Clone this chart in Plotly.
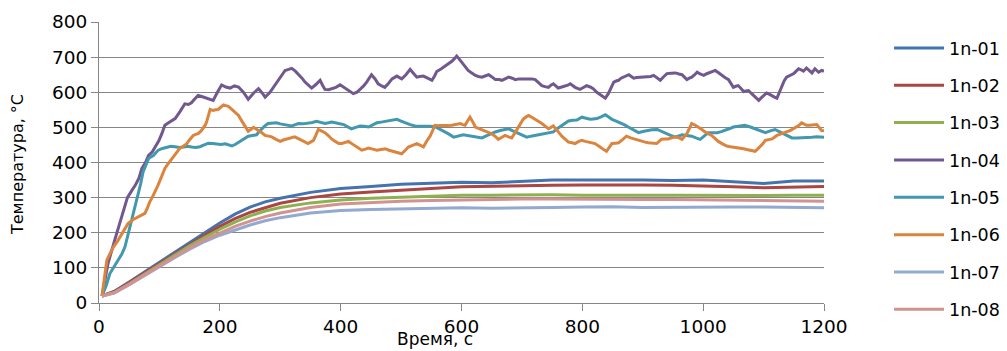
import plotly.graph_objects as go

# ---------------- data ----------------
series_names = ["1n-01", "1n-02", "1n-03", "1n-04", "1n-05", "1n-06", "1n-07", "1n-08"]
series_colors = ["#4573AE", "#AA4643", "#8FB050", "#71588F", "#4198AF", "#DB843D", "#93A9CF", "#D19392"]

t_smooth = [5, 25, 50, 75, 100, 125, 150, 175, 200, 225, 250, 275, 300, 350, 400, 450, 500, 550, 600,
            650, 700, 750, 800, 850, 900, 950, 1000, 1050, 1100, 1150, 1200]
v_01 = [20, 33, 60, 88, 115, 142, 172, 200, 228, 253, 273, 288, 298, 315, 326, 332, 338, 341, 344,
        342, 346, 350, 350, 351, 350, 349, 350, 345, 340, 347, 347]
v_02 = [20, 32, 58, 85, 112, 140, 167, 193, 218, 240, 258, 272, 284, 300, 310, 316, 320, 326, 331,
        333, 333, 335, 336, 337, 336, 335, 334, 331, 328, 330, 332]
v_03 = [20, 30, 55, 82, 110, 137, 163, 187, 210, 230, 248, 262, 272, 285, 293, 298, 301, 304, 307,
        307, 308, 308, 307, 308, 307, 307, 306, 307, 306, 307, 307]
v_07 = [20, 28, 52, 78, 104, 129, 153, 175, 193, 208, 222, 234, 243, 256, 263, 266, 268, 270, 271,
        270, 272, 272, 273, 274, 272, 273, 274, 273, 273, 272, 271]
v_08 = [20, 29, 53, 79, 106, 132, 157, 180, 200, 218, 233, 246, 256, 272, 282, 287, 290, 292, 294,
        295, 296, 296, 295, 296, 295, 295, 294, 292, 290, 290, 290]

t_04 = [5, 15, 26, 37, 47, 55, 60, 66, 71, 77, 82, 88, 93, 99, 104, 109, 117, 126, 134, 142, 148, 153,
        158, 164, 170, 175, 182, 189, 196, 203, 210, 217, 224, 231, 239, 247, 256, 264, 270, 275, 283,
        291, 300, 308, 314, 319, 325, 330, 336, 341, 347, 352, 359, 366, 370, 374, 380, 385, 392, 399,
        408, 415, 421, 427, 432, 438, 443, 447, 451, 457, 462, 468, 473, 479, 485, 493, 501, 508, 515,
        520, 526, 531, 537, 544, 551, 555, 559, 566, 573, 579, 584, 588, 592, 596, 600, 606, 611, 617,
        623, 628, 634, 640, 645, 651, 656, 662, 667, 673, 678, 684, 689, 695, 700, 706, 711, 717, 722,
        728, 733, 738, 744, 748, 752, 756, 760, 766, 771, 776, 780, 784, 788, 796, 807, 813, 818, 824,
        829, 834, 838, 843, 848, 852, 856, 860, 864, 868, 873, 877, 881, 885, 890, 896, 902, 907, 913,
        918, 924, 929, 935, 940, 947, 954, 960, 965, 969, 973, 977, 981, 986, 990, 995, 1001, 1005,
        1009, 1015, 1020, 1026, 1031, 1036, 1042, 1046, 1050, 1054, 1058, 1063, 1067, 1071, 1075, 1079,
        1083, 1088, 1092, 1096, 1100, 1105, 1110, 1114, 1118, 1122, 1126, 1130, 1134, 1138, 1144, 1150,
        1154, 1158, 1162, 1166, 1171, 1176, 1180, 1185, 1191, 1196, 1200]
v_04 = [20, 113, 179, 240, 300, 322, 335, 355, 383, 400, 420, 430, 444, 462, 482, 506, 515, 525, 545,
        567, 565, 570, 580, 591, 588, 585, 580, 577, 600, 621, 615, 612, 618, 615, 600, 580, 598, 610,
        598, 586, 600, 619, 640, 662, 665, 668, 660, 652, 640, 629, 620, 612, 622, 634, 620, 608, 607,
        610, 614, 621, 610, 603, 596, 600, 608, 618, 629, 640, 650, 638, 624, 618, 614, 625, 638, 646,
        638, 650, 665, 655, 643, 645, 646, 640, 634, 645, 659, 666, 674, 680, 688, 695, 703, 695, 686,
        675, 662, 655, 648, 645, 643, 647, 650, 643, 636, 636, 634, 639, 643, 640, 636, 638, 638, 640,
        640, 638, 636, 628, 619, 616, 614, 620, 624, 618, 612, 615, 617, 620, 624, 619, 614, 608, 619,
        615, 610, 600, 593, 588, 583, 596, 615, 629, 632, 634, 640, 643, 648, 650, 645, 640, 642, 643,
        642, 643, 645, 648, 640, 634, 645, 653, 654, 655, 652, 650, 643, 636, 640, 643, 650, 657, 652,
        648, 652, 655, 658, 662, 655, 648, 642, 636, 625, 614, 617, 619, 610, 602, 604, 605, 598, 591,
        584, 577, 584, 591, 598, 594, 589, 586, 583, 600, 619, 632, 643, 648, 653, 660, 667, 664, 660,
        669, 662, 655, 667, 657, 662, 660]

t_05 = [5, 12, 18, 25, 32, 38, 43, 47, 51, 56, 60, 65, 69, 73, 78, 82, 86, 90, 94, 98, 105, 112, 119,
        126, 133, 140, 147, 153, 160, 167, 174, 181, 188, 195, 202, 209, 215, 220, 226, 233, 240, 247,
        254, 261, 265, 269, 275, 280, 287, 294, 300, 305, 312, 319, 325, 330, 338, 346, 353, 360, 367,
        374, 380, 385, 391, 398, 405, 411, 418, 425, 432, 439, 446, 453, 460, 467, 474, 483, 493, 500,
        507, 515, 523, 531, 540, 548, 557, 565, 573, 580, 587, 595, 603, 610, 617, 625, 634, 641, 648,
        656, 664, 671, 678, 685, 692, 700, 708, 715, 722, 730, 739, 745, 752, 759, 766, 772, 777, 784,
        791, 799, 806, 813, 818, 824, 831, 838, 843, 849, 856, 863, 870, 876, 884, 893, 900, 907, 915,
        924, 931, 938, 946, 954, 960, 965, 973, 981, 988, 995, 1002, 1009, 1016, 1023, 1030, 1036, 1043,
        1050, 1060, 1069, 1078, 1086, 1095, 1103, 1111, 1119, 1126, 1133, 1140, 1147, 1155, 1163, 1172,
        1180, 1188, 1196, 1200]
v_05 = [20, 50, 84, 103, 122, 140, 160, 188, 217, 245, 274, 316, 340, 373, 395, 411, 416, 420, 428,
        435, 440, 444, 446, 445, 443, 444, 446, 444, 443, 445, 450, 455, 454, 453, 451, 453, 450, 447,
        452, 460, 468, 475, 477, 479, 488, 496, 505, 511, 513, 513, 510, 508, 506, 504, 508, 511, 510,
        511, 514, 517, 514, 511, 513, 515, 513, 510, 508, 502, 496, 500, 504, 503, 501, 507, 513, 515,
        517, 520, 523, 518, 513, 508, 504, 504, 504, 503, 501, 494, 487, 480, 472, 476, 479, 477, 475,
        473, 470, 476, 482, 487, 491, 494, 496, 490, 485, 478, 472, 475, 477, 480, 482, 484, 487, 497,
        506, 512, 518, 520, 521, 529, 526, 523, 524, 525, 530, 536, 530, 523, 518, 513, 507, 501, 493,
        485, 488, 491, 493, 494, 488, 482, 477, 472, 476, 479, 477, 475, 470, 466, 476, 485, 485, 485,
        488, 491, 496, 501, 504, 506, 501, 496, 490, 485, 490, 494, 488, 482, 476, 470, 470, 470, 471,
        472, 473, 472, 472]

t_06 = [5, 13, 18, 24, 31, 37, 43, 48, 56, 65, 70, 76, 80, 84, 88, 93, 97, 101, 105, 109, 113, 117,
        122, 126, 130, 134, 140, 145, 150, 156, 160, 164, 169, 173, 176, 178, 181, 184, 186, 189, 193,
        197, 202, 206, 210, 214, 218, 222, 227, 231, 235, 239, 243, 247, 251, 256, 260, 264, 270, 275,
        280, 286, 293, 300, 305, 311, 317, 324, 330, 335, 340, 346, 350, 355, 359, 363, 368, 374, 380,
        385, 391, 397, 402, 408, 413, 419, 424, 430, 435, 441, 446, 453, 460, 467, 474, 480, 487, 494,
        501, 507, 512, 519, 526, 532, 537, 542, 548, 552, 556, 563, 570, 577, 584, 591, 598, 602, 606,
        610, 614, 619, 623, 630, 637, 643, 650, 656, 661, 667, 672, 678, 683, 688, 693, 698, 702, 707,
        711, 717, 722, 728, 733, 739, 744, 748, 752, 759, 766, 772, 777, 783, 788, 794, 799, 805, 810,
        816, 821, 827, 832, 836, 840, 845, 849, 855, 860, 867, 873, 880, 887, 893, 898, 904, 909, 916,
        923, 927, 931, 937, 942, 948, 954, 960, 965, 969, 973, 977, 981, 987, 992, 998, 1003, 1009, 1014,
        1020, 1025, 1032, 1039, 1045, 1050, 1056, 1061, 1067, 1072, 1079, 1086, 1090, 1094, 1099, 1103,
        1109, 1114, 1118, 1122, 1128, 1133, 1139, 1144, 1148, 1152, 1158, 1163, 1167, 1171, 1176, 1180,
        1184, 1188, 1192, 1196, 1200]
v_06 = [20, 122, 140, 160, 177, 193, 210, 226, 237, 245, 250, 255, 270, 288, 300, 316, 333, 349, 366,
        383, 393, 402, 411, 420, 430, 441, 447, 453, 465, 477, 480, 482, 490, 498, 507, 515, 535, 551,
        550, 548, 550, 551, 558, 564, 562, 560, 554, 548, 541, 534, 522, 511, 500, 489, 494, 500, 495,
        491, 484, 477, 475, 473, 466, 460, 464, 467, 470, 473, 468, 463, 458, 454, 458, 463, 478, 494,
        490, 485, 476, 467, 460, 454, 454, 457, 460, 453, 447, 441, 435, 438, 441, 438, 435, 437, 439,
        435, 432, 428, 425, 435, 444, 449, 454, 449, 444, 460, 475, 490, 506, 505, 504, 505, 506, 508,
        511, 508, 506, 518, 529, 515, 501, 496, 491, 487, 482, 474, 466, 472, 477, 473, 470, 483, 496,
        510, 523, 530, 534, 528, 523, 517, 511, 503, 496, 500, 504, 490, 475, 466, 458, 456, 454, 460,
        463, 460, 458, 456, 454, 447, 440, 436, 432, 443, 454, 455, 456, 466, 475, 470, 466, 463, 460,
        458, 456, 455, 454, 460, 466, 467, 467, 470, 473, 470, 466, 474, 482, 496, 511, 506, 501, 494,
        487, 482, 477, 468, 460, 453, 447, 445, 444, 442, 441, 439, 437, 434, 432, 438, 444, 454, 463,
        465, 467, 472, 477, 481, 485, 488, 491, 495, 498, 505, 513, 510, 506, 506, 506, 507, 508, 500,
        491, 490]

x_ticks = [0, 200, 400, 600, 800, 1000, 1200]
y_ticks = [0, 100, 200, 300, 400, 500, 600, 700, 800]
x_title = "Время, с"
y_title = "Температура, °C"

series_t = [t_smooth, t_smooth, t_smooth, t_04, t_05, t_06, t_smooth, t_smooth]
series_v = [v_01, v_02, v_03, v_04, v_05, v_06, v_07, v_08]

# ---------------- figure ----------------
FONT = "DejaVu Sans"
AXIS_GRAY = "#868686"
TICK_SIZE = 18.5
LEGEND_SIZE = 17.5

fig = go.Figure()
for i, (name, col) in enumerate(zip(series_names, series_colors)):
    fig.add_trace(go.Scatter(
        x=series_t[i], y=series_v[i], mode="lines", name=name,
        legendgroup=name,
        line=dict(color=col, width=3),
    ))

fig.update_layout(
    width=1007, height=351,
    margin=dict(l=99, r=183, t=22, b=48, autoexpand=False),
    paper_bgcolor="white", plot_bgcolor="white",
    font=dict(family=FONT, size=TICK_SIZE, color="#000000"),
    showlegend=True,
    legend=dict(
        x=1.0897, y=1.0 - 8 / 281, xanchor="left", yanchor="top",
        font=dict(family=FONT, size=LEGEND_SIZE, color="#000000"),
        tracegroupgap=11.6, itemwidth=50, maxheight=345,
        bgcolor="rgba(0,0,0,0)",
    ),
    xaxis=dict(
        range=[0, 1200], tickvals=x_ticks, ticktext=[str(v) for v in x_ticks],
        showgrid=False, zeroline=False,
        showline=True, linecolor=AXIS_GRAY, linewidth=1,
        ticks="outside", ticklen=7, tickcolor=AXIS_GRAY, tickwidth=1,
        tickfont=dict(family=FONT, size=TICK_SIZE, color="#000000"),
    ),
    yaxis=dict(
        range=[0, 800], tickvals=y_ticks, ticktext=[str(v) for v in y_ticks],
        showgrid=True, gridcolor=AXIS_GRAY, gridwidth=1, zeroline=False,
        showline=True, linecolor=AXIS_GRAY, linewidth=1,
        ticks="outside", ticklen=7, tickcolor=AXIS_GRAY, tickwidth=1,
        tickfont=dict(family=FONT, size=TICK_SIZE, color="#000000"),
    ),
    annotations=[
        dict(text=x_title, xref="paper", yref="paper", x=(435 - 99) / 725, y=(303 - 339) / 281,
             xanchor="center", yanchor="middle", showarrow=False,
             font=dict(family=FONT, size=17, color="#000000")),
        dict(text=y_title, xref="paper", yref="paper", x=(17 - 99) / 725, y=(303 - 165) / 281,
             xanchor="center", yanchor="middle", showarrow=False, textangle=-90,
             font=dict(family=FONT, size=16, color="#000000")),
    ],
)

fig.write_html(
    "out.html",
    config={"displayModeBar": False},
    post_script="document.body.style.margin='0';document.body.style.overflow='hidden';",
)
